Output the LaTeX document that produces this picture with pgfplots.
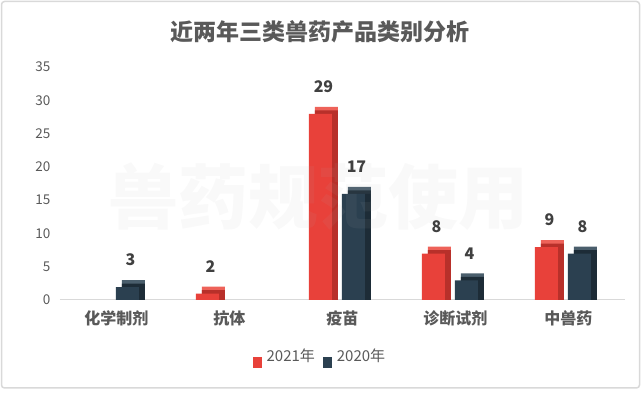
\documentclass[border=0pt]{standalone}
\usepackage{fontspec}
\setmainfont{Noto Sans CJK SC}
\usepackage{pgfplots}
\pgfplotsset{compat=1.18}
\definecolor{cred}{HTML}{E8413A}
\definecolor{credtop}{HTML}{EE6259}
\definecolor{credside}{HTML}{B8302A}
\definecolor{cdark}{HTML}{2B4050}
\definecolor{cdarktop}{HTML}{4A5E6C}
\definecolor{cdarkside}{HTML}{1D2C37}
\definecolor{ctxt}{HTML}{595959}
\definecolor{clab}{HTML}{404040}
\begin{document}
\begin{tikzpicture}[x=1pt,y=1pt]
\useasboundingbox (0,0) rectangle (641,396);
\draw[color=black!15, line width=1.5pt, rounded corners=3pt] (1.5,8) rectangle (639.5,394.5);
\node[font=\fontsize{23}{26}\selectfont\bfseries, text=ctxt] at (320,364) {近两年三类兽药产品类别分析};
\begin{axis}[
  at={(60pt,96pt)}, anchor=south west, scale only axis,
  width=565pt, height=233pt,
  xmin=-0.5, xmax=4.5, ymin=0, ymax=35,
  ytick={0,5,...,35}, xtick={0,1,2,3,4},
  xticklabels={化学制剂,抗体,疫苗,诊断试剂,中兽药},
  axis lines*=left,
  y axis line style={draw=none},
  x axis line style={draw=black!15, line width=1pt, -},
  tick style={draw=none}, major tick length=0pt,
  /pgf/number format/assume math mode=true,
  yticklabel style={font=\fontsize{13.5}{15}\selectfont, text=ctxt, anchor=east, xshift=-6pt},
  xticklabel style={font=\fontsize{16}{18}\selectfont\bfseries, text=ctxt, yshift=-7pt},
  legend style={at={(0.46,-0.245)}, anchor=center, draw=none, fill=none,
     legend columns=2, font=\fontsize{15}{17}\selectfont, text=ctxt,
     /tikz/every odd column/.append style={column sep=3pt},
     /tikz/every even column/.append style={column sep=6pt}},
  sqlegend/.style={legend image code/.code={\fill[##1] (0pt,-5pt) rectangle (9pt,6pt);}},
  ybar, bar width=23pt,
  clip=true,
]
% 2021 series
\addplot[forget plot, fill=credtop, draw=none, bar shift=-16pt] coordinates {(1,2) (2,29) (3,8) (4,9)};
\addplot[forget plot, fill=credside, draw=none, bar shift=-16pt, yshift=-3.5pt] coordinates {(1,2) (2,29) (3,8) (4,9)};
\addplot[fill=cred, draw=none, bar shift=-22pt, yshift=-7pt, sqlegend] coordinates {(1,2) (2,29) (3,8) (4,9)};
\addlegendentry{2021年}
% 2020 series
\addplot[forget plot, fill=cdarktop, draw=none, bar shift=17pt] coordinates {(0,3) (2,17) (3,4) (4,8)};
\addplot[forget plot, fill=cdarkside, draw=none, bar shift=17pt, yshift=-3.5pt] coordinates {(0,3) (2,17) (3,4) (4,8)};
\addplot[fill=cdark, draw=none, bar shift=11pt, yshift=-7pt, sqlegend] coordinates {(0,3) (2,17) (3,4) (4,8)};
\addlegendentry{2020年}
% data labels
\addplot[forget plot, draw=none, fill=none, bar shift=-19pt,
  nodes near coords, nodes near coords style={font=\fontsize{16}{18}\selectfont\bfseries, text=clab, anchor=center, yshift=20pt},
  point meta=explicit symbolic]
  coordinates {(1,2) [2] (2,29) [29] (3,8) [8] (4,9) [9]};
\addplot[forget plot, draw=none, fill=none, bar shift=14pt,
  nodes near coords, nodes near coords style={font=\fontsize{16}{18}\selectfont\bfseries, text=clab, anchor=center, yshift=20pt},
  point meta=explicit symbolic]
  coordinates {(0,3) [3] (2,17) [17] (3,4) [4] (4,8) [8]};
\node[font=\fontsize{70}{72}\selectfont\bfseries, text=black!30, opacity=0.08] at (rel axis cs:0.457,0.442) {兽药规范使用};
\end{axis}
\end{tikzpicture}
\end{document}
